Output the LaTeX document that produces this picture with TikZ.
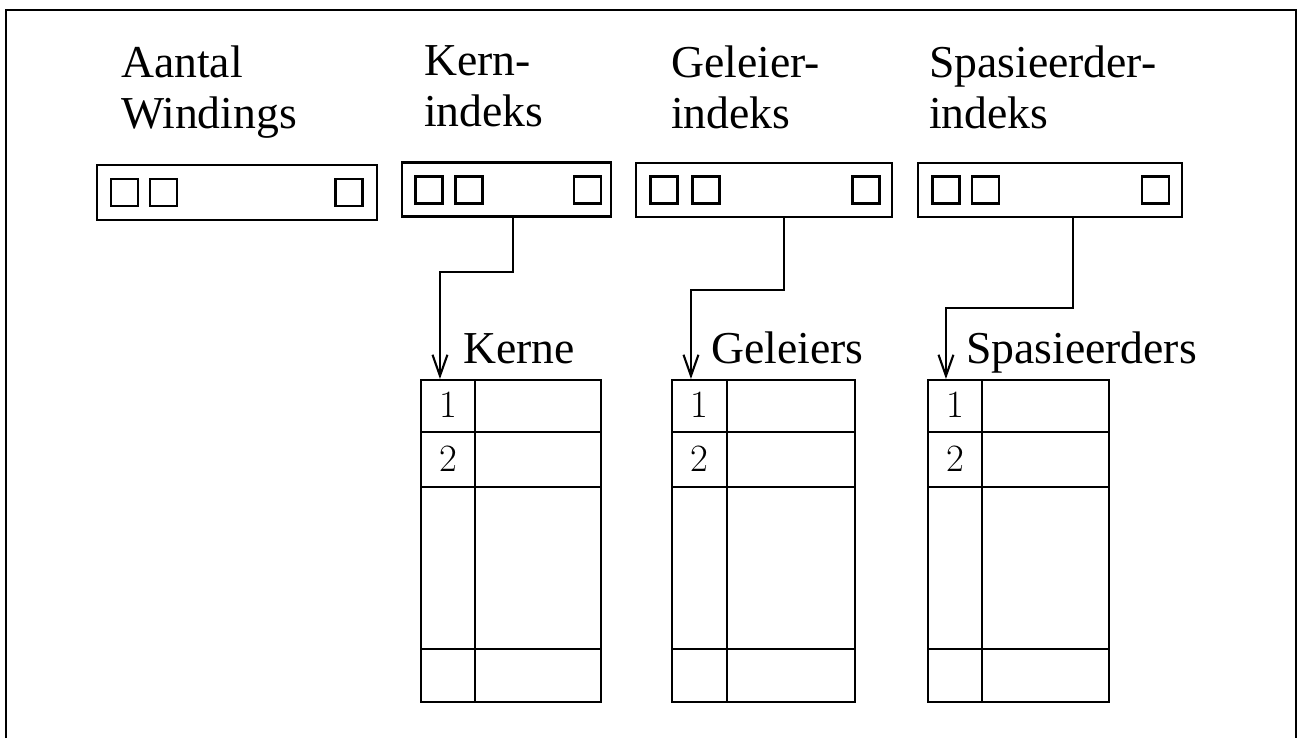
\documentclass[tikz,border=0pt]{standalone}
\usepackage{fontspec}
\setmainfont{Liberation Serif}
\newfontfamily\cmfont{Latin Modern Roman}
\usetikzlibrary{arrows.meta,calc,positioning}

\begin{document}
\begin{tikzpicture}[x=0.02cm,y=-0.02cm,line width=1.2pt,
    idx/.style={draw,rectangle,minimum height=1.08cm,inner sep=0pt},
    sq/.style={draw,rectangle,minimum size=0.54cm,inner sep=0pt},
    tbl/.style={draw,rectangle,minimum height=6.44cm,inner sep=0pt},
    lbl/.style={font=\fontsize{26}{29}\selectfont,inner sep=0pt,align=left,anchor=north west},
    tlbl/.style={font=\fontsize{26}{29}\selectfont,inner sep=0pt,anchor=base west},
    num/.style={font=\cmfont\fontsize{22}{26}\selectfont,inner sep=0pt},
    arr/.style={-{Straight Barb[length=12pt,width=8.5pt]}}]
    \useasboundingbox (0,0) rectangle (1298,738);
    % frame
    \draw[line width=1.6pt] (6,738) -- (6,10) -- (1296,10) -- (1296,738);
    % headings
    \node[lbl] (aantal) at (120,45) {Aantal\\Windings};
    \node[lbl] (kern) at (423,45) {Kern-\\indeks};
    \node[lbl] (geleier) at (670,45) {Geleier-\\indeks};
    \node[lbl] (spasieerder) at (928,45) {Spasieerder-\\indeks};
    % index records
    \node[idx,minimum width=5.6cm,minimum height=1.1cm] (aidx) at (237,192.5) {};
    \node[sq] (a1) at (124.5,192.5) {};
    \node[sq] (a2) at (163.5,192.5) {};
    \node[sq] (an) at (349,192.5) {};
    \node[idx,minimum width=4.18cm] (kidx) at (506.5,189.5) {};
    \node[sq] (k1) at (429,190) {};
    \node[sq] (k2) at (469,190) {};
    \node[sq] (kn) at (587.5,190) {};
    \node[idx,minimum width=5.12cm] (gidx) at (764,190) {};
    \node[sq] (g1) at (664,190) {};
    \node[sq] (g2) at (706,190) {};
    \node[sq] (gn) at (866,190) {};
    \node[idx,minimum width=5.28cm] (sidx) at (1050,190) {};
    \node[sq] (s1) at (946,190) {};
    \node[sq] (s2) at (985.5,190) {};
    \node[sq] (sn) at (1155.5,190) {};
    % tables
    \node[tbl,minimum width=3.6cm] (kt) at (511,541) {};
    \node[tbl,minimum width=3.66cm] (gt) at (763.5,541) {};
    \node[tbl,minimum width=3.62cm] (st) at (1018.5,541) {};
    \draw (475,380) -- (475,702)
          (421,432) -- (601,432) (421,487) -- (601,487) (421,649) -- (601,649);
    \draw (727,380) -- (727,702)
          (672,432) -- (855,432) (672,487) -- (855,487) (672,649) -- (855,649);
    \draw (982,380) -- (982,702)
          (928,432) -- (1109,432) (928,487) -- (1109,487) (928,649) -- (1109,649);
    \node[num] (k1n) at (448,405) {1};
    \node[num] (k2n) at (448,458.5) {2};
    \node[num] (g1n) at (699.5,405) {1};
    \node[num] (g2n) at (699.5,458.5) {2};
    \node[num] (s1n) at (955,405) {1};
    \node[num] (s2n) at (955,458.5) {2};
    \node[tlbl] (kerne) at (462,363) {Kerne};
    \node[tlbl] (geleiers) at (710,363) {Geleiers};
    \node[tlbl] (spasieerders) at (965,363) {Spasieerders};
    % pointers
    \draw[arr] ([xshift=0.13cm]kidx.south) -- ++(0,54) -| ([xshift=0.4cm]kt.north west);
    \draw[arr] ([xshift=0.4cm]gidx.south) -- ++(0,72) -| ([xshift=0.4cm]gt.north west);
    \draw[arr] ([xshift=0.46cm]sidx.south) -- ++(0,90) -| ([xshift=0.38cm]st.north west);
\end{tikzpicture}
\end{document}
